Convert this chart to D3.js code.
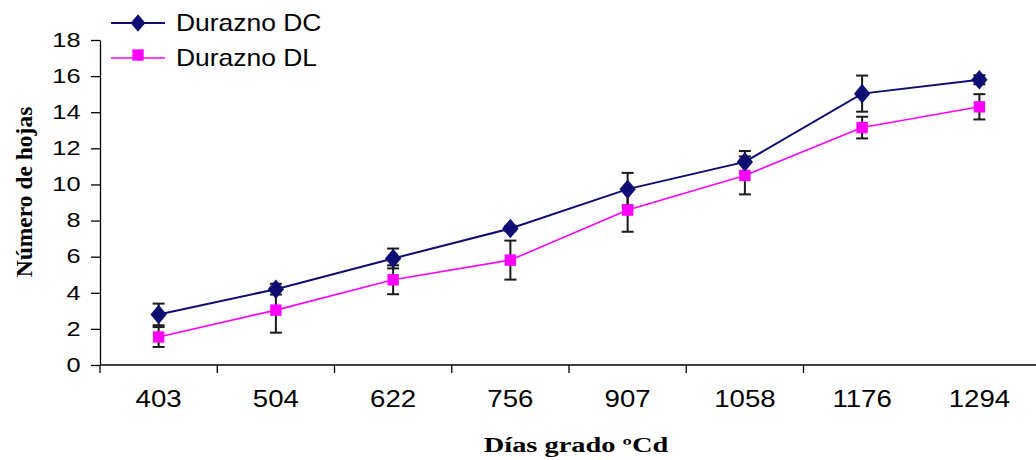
<!DOCTYPE html>
<html>
<head>
<meta charset="utf-8">
<script src="https://cdn.jsdelivr.net/npm/d3@7"></script>
<style>
body { margin: 0; background: #fff; }
</style>
</head>
<body>
<script>
// data
var dias = ["403", "504", "622", "756", "907", "1058", "1176", "1294"];
var dcValues = [2.8, 4.2, 5.9, 7.56, 9.74, 11.25, 15.03, 15.8];
var dcErrors = [0.6, 0.3, 0.55, 0.15, 0.9, 0.6, 1.0, 0.25];
var dlValues = [1.55, 3.04, 4.72, 5.81, 8.58, 10.5, 13.15, 14.3];
var dlErrors = [0.55, 1.25, 0.8, 1.08, 1.2, 1.05, 0.6, 0.7];
var yTicks = [0, 2, 4, 6, 8, 10, 12, 14, 16, 18];

var series = [
    {name: "Durazno DC", values: dcValues, errors: dcErrors, color: "#0d0d73", shape: d3.symbolDiamond},
    {name: "Durazno DL", values: dlValues, errors: dlErrors, color: "#ff00ff", shape: d3.symbolSquare}
];

var MARGINS = {left: 100, right: 0, bottom: 95, top: 40};
var W = 1036, H = 460;
var width = 938;   // 8 bands of ~117px
var height = 325;

var xScale = d3.scaleBand().domain(dias).range([0, width]);
var yScale = d3.scaleLinear().domain([0, 18]).range([height, 0]);

var svg = d3.select("body").append("svg")
    .attr("width", W)
    .attr("height", H)
    .style("font-family", "Arial, 'Liberation Sans', sans-serif");

var g = svg.append("g")
    .attr("transform", "translate(" + MARGINS.left + "," + MARGINS.top + ")");

function cx(i) { return xScale(dias[i]) + xScale.bandwidth() / 2; }

// x axis (Excel style: ticks between categories)
var xAxis = g.append("g")
    .attr("transform", "translate(0," + height + ")");
xAxis.append("line")
    .attr("x1", 0).attr("x2", W - MARGINS.left)
    .attr("stroke", "#000").attr("stroke-width", 1.3);
xAxis.selectAll(".xt").data(dias.slice(0, 7)).enter().append("line")
    .attr("x1", function (d, i) { return xScale.step() * i; })
    .attr("x2", function (d, i) { return xScale.step() * i; })
    .attr("y1", 0).attr("y2", 8)
    .attr("stroke", "#000").attr("stroke-width", 1.3);
xAxis.selectAll(".xl").data(dias).enter().append("text")
    .attr("transform", function (d, i) { return "translate(" + cx(i) + ",42) scale(1.2,1)"; })
    .attr("text-anchor", "middle")
    .attr("font-size", 23)
    .attr("fill", "#000")
    .text(function (d) { return d; });

// y axis
var yAxis = g.append("g")
    .call(d3.axisLeft(yScale).tickValues(yTicks).tickSize(9).tickSizeOuter(0).tickPadding(6));
yAxis.select(".domain").attr("stroke-width", 1.3);
yAxis.selectAll(".tick line").attr("stroke-width", 1.3);
yAxis.selectAll(".tick text")
    .attr("font-size", 19.5)
    .attr("font-family", "Arial, 'Liberation Sans', sans-serif")
    .attr("fill", "#000")
    .attr("transform", "scale(1.3,1)");

// axis titles
svg.append("text")
    .attr("transform", "translate(576,452) scale(1.42,1)")
    .attr("text-anchor", "middle")
    .attr("font-family", "'Times New Roman', 'Liberation Serif', serif")
    .attr("font-weight", "bold")
    .attr("font-size", 20)
    .text("Días grado ºCd");

svg.append("text")
    .attr("transform", "translate(32,192) rotate(-90)")
    .attr("text-anchor", "middle")
    .attr("font-family", "'Times New Roman', 'Liberation Serif', serif")
    .attr("font-weight", "bold")
    .attr("font-size", 23.5)
    .text("Número de hojas");

// error bars
series.forEach(function (s) {
    var eb = g.append("g").attr("stroke", "#1a1a1a").attr("stroke-width", 2);
    s.values.forEach(function (v, i) {
        var x = cx(i), y1 = yScale(v + s.errors[i]), y2 = yScale(v - s.errors[i]);
        eb.append("line").attr("x1", x).attr("x2", x).attr("y1", y1).attr("y2", y2);
        eb.append("line").attr("x1", x - 6).attr("x2", x + 6).attr("y1", y1).attr("y2", y1);
        eb.append("line").attr("x1", x - 6).attr("x2", x + 6).attr("y1", y2).attr("y2", y2);
    });
});

// lines and markers
var line = d3.line()
    .x(function (d, i) { return cx(i); })
    .y(function (d) { return yScale(d); });

series.slice().reverse().forEach(function (s) {
    g.append("path").datum(s.values)
        .attr("fill", "none")
        .attr("stroke", s.color)
        .attr("stroke-width", s.shape === d3.symbolSquare ? 1.6 : 2)
        .attr("d", line);
});
series.slice().reverse().forEach(function (s) {
    g.selectAll(null).data(s.values).enter().append("path")
        .attr("d", d3.symbol().type(s.shape).size(s.shape === d3.symbolSquare ? 130 : 110))
        .attr("transform", function (d, i) {
            var sc = s.shape === d3.symbolDiamond ? " scale(1.45,1)" : "";
            return "translate(" + cx(i) + "," + yScale(d) + ")" + sc;
        })
        .attr("fill", s.color);
});

// legend
var legY = [23, 58];
series.forEach(function (s, k) {
    var lg = svg.append("g").attr("transform", "translate(0," + legY[k] + ")");
    lg.append("line").attr("x1", 111).attr("x2", 165)
        .attr("stroke", s.color).attr("stroke-width", s.shape === d3.symbolSquare ? 1.6 : 2);
    lg.append("path")
        .attr("d", d3.symbol().type(s.shape).size(s.shape === d3.symbolSquare ? 130 : 90))
        .attr("transform", "translate(138," + (k === 1 ? -3 : 0) + ")" + (s.shape === d3.symbolDiamond ? " scale(1.45,1)" : ""))
        .attr("fill", s.color);
    lg.append("text")
        .attr("transform", "translate(176,8) scale(1.15,1)")
        .attr("font-size", 23)
        .attr("fill", "#000")
        .text(s.name);
});
</script>
</body>
</html>
